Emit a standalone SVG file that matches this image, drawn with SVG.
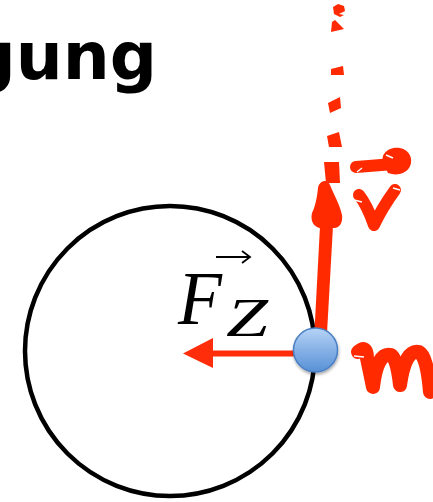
<svg xmlns="http://www.w3.org/2000/svg" width="433" height="502" viewBox="0 0 433 502">
<defs>
<style>
.title{font-family:"DejaVu Sans",sans-serif;font-weight:bold;font-size:66px;fill:#000}
.math{font-family:"Liberation Serif","DejaVu Serif",serif;font-style:italic;fill:#000}
.ink{fill:none;stroke:#ff2a00;stroke-linecap:round;stroke-linejoin:round}
.inkfill{fill:#ff2a00}
.orbit{fill:none;stroke:#000;stroke-width:4.5}
</style>
<linearGradient id="ballGrad" x1="0" y1="0" x2="0" y2="1">
<stop offset="0" stop-color="#b6d3f6"/>
<stop offset="1" stop-color="#5790d6"/>
</linearGradient>
<filter id="shadow" x="-40%" y="-40%" width="180%" height="180%">
<feDropShadow dx="0.5" dy="2" stdDeviation="1.8" flood-color="#000" flood-opacity="0.35"/>
</filter>
</defs>
<rect width="433" height="502" fill="#fff"/>

<g id="title">
<text class="title" x="157" y="79" text-anchor="end">gung</text>
</g>

<g id="orbit">
<circle class="orbit" cx="170" cy="351" r="145"/>
</g>

<g id="label-fz">
<text class="math" x="178" y="324" font-size="76" textLength="44" lengthAdjust="spacingAndGlyphs">F</text>
<text class="math" x="226" y="336" font-size="55" textLength="42" lengthAdjust="spacingAndGlyphs">Z</text>
<line x1="216" y1="257" x2="249" y2="257" stroke="#000" stroke-width="2"/>
<path d="M242,251 L250,257 L242,263" fill="none" stroke="#000" stroke-width="1.8"/>
</g>

<g id="connectors">
<g id="force-arrow">
<line x1="294" y1="353.5" x2="208" y2="353.5" stroke="#ff2d0a" stroke-width="6"/>
<polygon points="183,353.5 213,338 213,368" fill="#ff2d0a"/>
</g>
<g id="velocity-arrow">
<polygon class="inkfill" points="314,340 327,333 333,226 320,226"/>
<path class="inkfill" d="M320,228 C314,227 310,221 312,213 C315,207 317,198 318,188 C319,181 327,178 330,185 C334,195 340,205 342,215 C343,222 340,228 334,228 Z"/>
<polygon class="inkfill" points="324,162 339,162 340,183 326,183"/>
<polygon class="inkfill" points="327,136 339,132 342,147 329,147"/>
<polygon class="inkfill" points="328,103 340,97 341,108 330,113"/>
<polygon class="inkfill" points="331,69 343,66 344,75 331,75"/>
<polygon class="inkfill" points="332,22 335,20 344,29 331,32"/>
<polygon class="inkfill" points="333,7 338,4 344,6 345,11 339,14 344,15 340,17 334,14"/>
</g>
</g>

<g id="mass">
<circle cx="315.5" cy="350" r="22" fill="url(#ballGrad)" stroke="#4a7fc4" stroke-width="1.5" filter="url(#shadow)"/>
</g>

<g id="label-v">
<path class="ink" d="M356,167 L394,164" stroke-width="12"/>
<path class="inkfill" d="M383,163 C380,153 390,146 400,148 C410,150 414,160 409,168 C405,174 396,176 388,173 Z"/>
<path d="M386,155 L393,158" stroke="#fff" stroke-width="1.5"/>
<path d="M357,172 L362,168" stroke="#fff" stroke-width="1.5"/>
<path class="ink" d="M359,195 Q367,205 374,225 Q382,208 395,190" stroke-width="12"/>
<path d="M354,200 L362,202" stroke="#fff" stroke-width="1.5"/>
<path d="M393,188 L400,190" stroke="#fff" stroke-width="1.5"/>
</g>

<g id="label-m">
<path class="ink" d="M358,352 Q367,344 367,358 L373,387 Q377,352 391,355 Q397,358 400,385 Q405,349 419,352 Q427,356 430,392" stroke-width="14"/>
<path d="M354,356 L364,357" stroke="#fff" stroke-width="1.5"/>
</g>
</svg>
